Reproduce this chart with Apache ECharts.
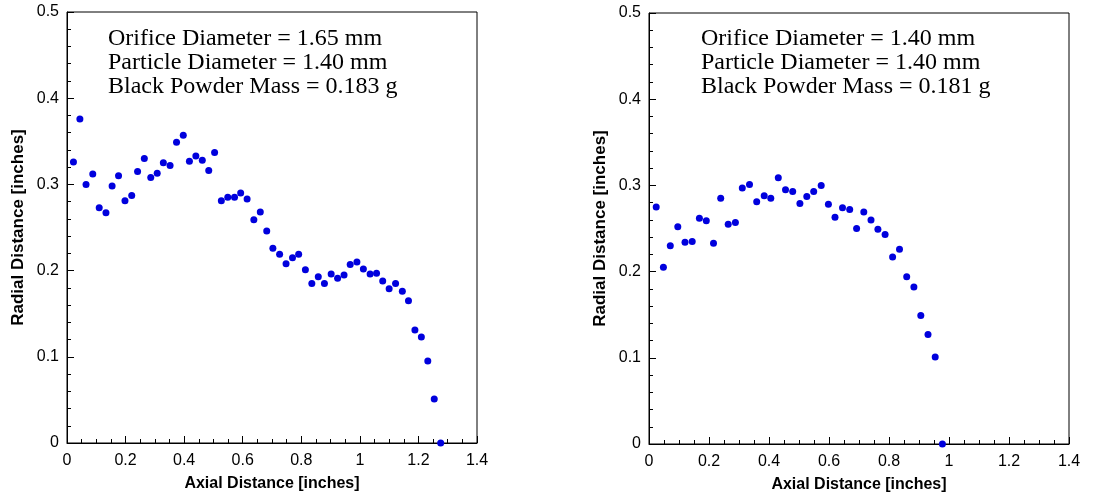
<!DOCTYPE html>
<html>
<head>
<meta charset="utf-8">
<script src="https://cdn.jsdelivr.net/npm/echarts@6/dist/echarts.min.js"></script>
<style>
html,body{margin:0;padding:0;background:#fff;}
#chart{width:1098px;height:498px;}
</style>
</head>
<body>
<div id="chart"></div>
<script>
// Left panel: orifice 1.65 mm
var leftX = [0.022,0.044,0.065,0.088,0.110,0.133,0.154,0.176,0.198,0.221,0.241,0.264,0.286,0.308,0.329,0.352,0.374,0.397,0.418,0.440,0.462,0.484,0.504,0.527,0.549,0.572,0.593,0.615,0.638,0.660,0.682,0.703,0.726,0.748,0.770,0.791,0.814,0.836,0.858,0.879,0.902,0.924,0.946,0.967,0.990,1.012,1.035,1.057,1.078,1.100,1.122,1.145,1.166,1.188,1.210,1.232,1.254,1.276];
var leftY = [0.326,0.376,0.300,0.312,0.273,0.267,0.298,0.310,0.281,0.287,0.315,0.330,0.308,0.313,0.325,0.322,0.349,0.357,0.327,0.333,0.328,0.316,0.337,0.281,0.285,0.285,0.290,0.283,0.259,0.268,0.246,0.226,0.219,0.208,0.215,0.219,0.201,0.185,0.193,0.185,0.196,0.191,0.195,0.207,0.210,0.202,0.196,0.197,0.188,0.179,0.185,0.176,0.165,0.131,0.123,0.095,0.051,0.000];
// Right panel: orifice 1.40 mm
var rightX = [0.024,0.048,0.071,0.096,0.120,0.144,0.168,0.191,0.215,0.239,0.264,0.288,0.311,0.335,0.359,0.384,0.406,0.431,0.455,0.479,0.503,0.526,0.549,0.574,0.598,0.620,0.645,0.669,0.692,0.716,0.740,0.763,0.787,0.812,0.835,0.859,0.883,0.906,0.930,0.954,0.978];
var rightY = [0.275,0.205,0.230,0.252,0.234,0.235,0.262,0.259,0.233,0.285,0.255,0.257,0.297,0.301,0.281,0.288,0.285,0.309,0.295,0.293,0.279,0.287,0.293,0.300,0.278,0.263,0.274,0.272,0.250,0.269,0.260,0.249,0.243,0.217,0.226,0.194,0.182,0.149,0.127,0.101,0.000];

var leftText = ["Orifice Diameter = 1.65 mm","Particle Diameter = 1.40 mm","Black Powder Mass = 0.183 g"];
var rightText = ["Orifice Diameter = 1.40 mm","Particle Diameter = 1.40 mm","Black Powder Mass = 0.181 g"];
var xName = "Axial Distance [inches]";
var yName = "Radial Distance [inches]";

function zip(xs, ys){ return xs.map(function(x,i){ return [x, ys[i]]; }); }

var sans = "Liberation Sans, Arial, sans-serif";
function fmt(v){ return String(Math.round(v*10)/10); }
var tickCol = '#000';
function xAxis(gi){
  return {
    type:'value', gridIndex:gi, min:0, max:1.4, interval:0.2,
    name:xName, nameLocation:'middle', nameGap:33,
    nameTextStyle:{fontFamily:sans, fontWeight:'bold', fontSize:16, color:'#000'},
    axisLine:{show:true, onZero:false, lineStyle:{color:'#000', width:1}},
    axisTick:{show:true, inside:true, length:7, lineStyle:{color:tickCol, width:1}},
    minorTick:{show:true, splitNumber:4, length:4, lineStyle:{color:tickCol, width:1}},
    splitLine:{show:false},
    axisLabel:{fontFamily:sans, fontSize:16, color:'#000', margin:10, formatter:fmt},
    z:10
  };
}
function yAxis(gi){
  return {
    type:'value', gridIndex:gi, min:0, max:0.5, interval:0.1,
    name:yName, nameLocation:'middle', nameGap:40,
    nameTextStyle:{fontFamily:sans, fontWeight:'bold', fontSize:17, color:'#000'},
    axisLine:{show:true, onZero:false, lineStyle:{color:'#000', width:1}},
    axisTick:{show:true, inside:true, length:7, lineStyle:{color:tickCol, width:1}},
    minorTick:{show:true, splitNumber:5, length:4, lineStyle:{color:tickCol, width:1}},
    splitLine:{show:false},
    axisLabel:{fontFamily:sans, fontSize:16, color:'#000', margin:8, formatter:fmt},
    z:10
  };
}
function textBlock(lines, left){
  return lines.map(function(t,i){
    return {type:'text', x:left, y:39 + i*23.7,
      style:{text:t, font:'24px "Liberation Serif", "Times New Roman", serif', fill:'#000', verticalAlign:'middle', align:'left'}};
  });
}

var chart = echarts.init(document.getElementById('chart'), null, {renderer:'canvas'});
chart.setOption({
  backgroundColor:'#fff',
  animation:false,
  grid:[
    {left:67, top:12, width:410, height:431, show:true, borderColor:'#000', borderWidth:1, backgroundColor:'rgba(0,0,0,0)', z:0},
    {left:649, top:13, width:420, height:431, show:true, borderColor:'#000', borderWidth:1, backgroundColor:'rgba(0,0,0,0)', z:0}
  ],
  xAxis:[xAxis(0), xAxis(1)],
  yAxis:[yAxis(0), yAxis(1)],
  series:[
    {type:'scatter', xAxisIndex:0, yAxisIndex:0, data:zip(leftX,leftY), symbolSize:7,
      itemStyle:{color:'#0000dd', opacity:1}, clip:false, z:20},
    {type:'scatter', xAxisIndex:1, yAxisIndex:1, data:zip(rightX,rightY), symbolSize:7,
      itemStyle:{color:'#0000dd', opacity:1}, clip:false, z:20}
  ],
  graphic: textBlock(leftText, 108).concat(textBlock(rightText, 701))
});
</script>
</body>
</html>
